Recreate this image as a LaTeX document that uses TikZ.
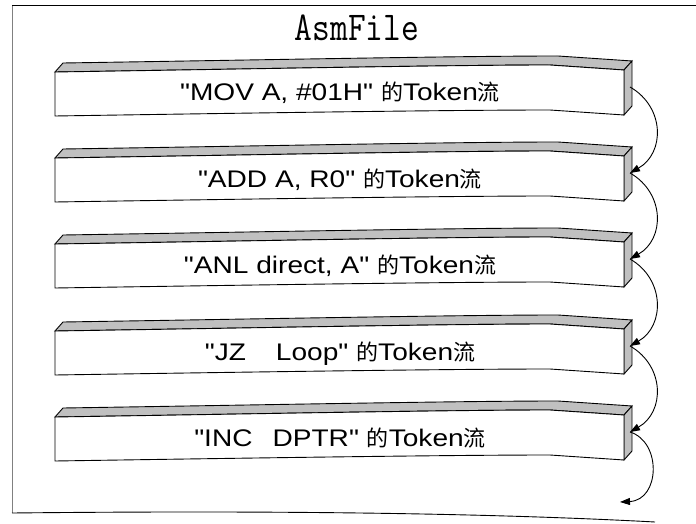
\documentclass[tikz,border=0pt]{standalone}
\usepackage{fontspec}
\newfontfamily\bandfont{Liberation Sans}[FakeStretch=1.17]
\newfontfamily\cjk{Noto Sans CJK SC}
\usepackage{xcolor}
\usetikzlibrary{arrows.meta}
\definecolor{facegray}{HTML}{C0C0C0}
\newcommand{\cjkch}[1]{{\fontsize{22}{22}\selectfont\cjk #1}}
\newcommand{\tokflow}{\cjkch{的}Token\cjkch{流}}

\begin{document}
\begin{tikzpicture}[x=1pt,y=-1pt,line width=0.9pt,>={Triangle[length=10pt,width=7pt]},
  bandtext/.style={anchor=base,inner sep=0pt,font=\bandfont\fontsize{24}{24}\selectfont}]
\useasboundingbox (0,0) rectangle (696,524);
\draw[gray] (12,5) -- (12,513);
\draw (12,5) -- (696,5);
\draw (12,513) .. controls (200,511) and (450,511) .. (655,522);
\node[anchor=base,inner sep=0pt](title)at(357,41){\scalebox{0.84}[1]{\fontsize{41}{41}\selectfont\ttfamily AsmFile}};
\foreach \t/\s [count=\i] in {72/{MOV A, \#01H},158/{ADD A, R0},244/{ANL direct, A},331/{JZ\hspace*{30pt}Loop},417/{INC\hspace*{20pt}DPTR}}{
  \filldraw[fill=facegray] (55,\t) .. controls (250,\t-3) and (450,\t-7) .. (550,\t-7) -- (624,\t-2) -- (632,\t-11)
    -- (558,\t-16) .. controls (458,\t-16) and (258,\t-12) .. (63,\t-9) -- cycle;
  \filldraw[fill=facegray] (624,\t-2) -- (632,\t-11) -- (632,\t+34) -- (624,\t+43) -- cycle;
  \filldraw[fill=white] (55,\t) .. controls (250,\t-3) and (450,\t-7) .. (550,\t-7) -- (624,\t-2) -- (624,\t+43)
    -- (550,\t+38) .. controls (450,\t+38) and (250,\t+41) .. (55,\t+44) -- cycle;
  \node[bandtext](b\i)at(340,\t+29){"\s" \tokflow};
  \coordinate (r\i) at (630,\t+15);
}
\coordinate (out) at (620,502);
\foreach \i/\j in {1/2,2/3,3/4,4/5}\draw[->] (r\i) .. controls +(35,20) and +(35,-20) .. (r\j);
\draw[->] (r5) .. controls +(32,10) and +(40,-2) .. (out);
\end{tikzpicture}
\end{document}
